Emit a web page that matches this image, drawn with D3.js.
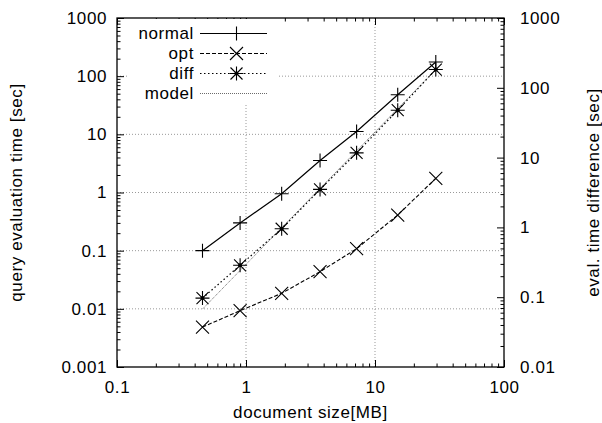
<!DOCTYPE html>
<html>
<head>
<meta charset="utf-8">
<script src="https://cdn.jsdelivr.net/npm/d3@7"></script>
<style>
  body { margin: 0; background: #fff; }
  svg { display: block; }
  text { font-family: "Liberation Sans", Arial, Helvetica, sans-serif; font-size: 17px; letter-spacing: 0.6px; fill: #000; }
</style>
</head>
<body>
<div id="chart"></div>
<script>
// document size [MB] and measured times [sec]
const sizes = [0.46, 0.9, 1.89, 3.75, 7.2, 15.0, 29.6];
const normalTime = [0.1, 0.30, 0.95, 3.55, 11.2, 48, 175];
const optTime = [0.00485, 0.0093, 0.0185, 0.0435, 0.108, 0.41, 1.75];
const diffTime = [0.0153, 0.056, 0.238, 1.13, 4.8, 26, 130];
// model: straight power-law line, two end points
const modelX = [0.46, 29.6];
const modelY = [0.0099, 130];

const xTicks = [0.1, 1, 10, 100];
const yTicks = [0.001, 0.01, 0.1, 1, 10, 100, 1000];
const y2Ticks = [0.01, 0.1, 1, 10, 100, 1000];
const tickLabel = v => String(v);

const width = 602, height = 423;
const m = { top: 18, right: 98, bottom: 56, left: 117 };
const iw = width - m.left - m.right;
const ih = height - m.top - m.bottom;

const svg = d3.select('#chart').append('svg')
  .attr('width', width).attr('height', height);
const g = svg.append('g').attr('transform', `translate(${m.left},${m.top})`);

const x = d3.scaleLog().domain([0.1, 100]).range([0, iw]);
const y = d3.scaleLog().domain([0.001, 1000]).range([ih, 0]);
const y2 = d3.scaleLog().domain([0.01, 1000]).range([ih, 0]);

// minor ticks 2..9 in each decade
function minors(domain) {
  const out = [];
  for (let e = Math.round(Math.log10(domain[0])); e < Math.round(Math.log10(domain[1])); e++) {
    for (let k = 2; k <= 9; k++) out.push(k * Math.pow(10, e));
  }
  return out;
}

// grid
const grid = g.append('g').attr('stroke', '#999').attr('stroke-dasharray', '1,2').attr('stroke-width', 1);
grid.selectAll('line.gx').data(xTicks.slice(1, -1)).join('line')
  .attr('x1', d => x(d)).attr('x2', d => x(d)).attr('y1', 0).attr('y2', ih);
grid.selectAll('line.gy').data(yTicks.slice(1, -1)).join('line')
  .attr('x1', 0).attr('x2', iw).attr('y1', d => y(d)).attr('y2', d => y(d));

// axes (ticks pointing inward)
function styleAxis(sel) {
  sel.attr('font-family', null).attr('font-size', null);
  sel.select('.domain').remove();
  sel.selectAll('line').attr('stroke', '#000');
}
g.append('g').attr('transform', `translate(0,${ih})`)
  .call(d3.axisBottom(x).tickValues(xTicks).tickFormat(tickLabel).tickSize(-7).tickPadding(14))
  .call(styleAxis);
g.append('g').attr('transform', `translate(0,${ih})`)
  .call(d3.axisBottom(x).tickValues(minors(x.domain())).tickFormat('').tickSize(-3.5))
  .call(styleAxis);
g.append('g')
  .call(d3.axisTop(x).tickValues(xTicks).tickFormat('').tickSize(-7))
  .call(styleAxis);
g.append('g')
  .call(d3.axisTop(x).tickValues(minors(x.domain())).tickFormat('').tickSize(-3.5))
  .call(styleAxis);
g.append('g')
  .call(d3.axisLeft(y).tickValues(yTicks).tickFormat(tickLabel).tickSize(-7).tickPadding(10))
  .call(styleAxis);
g.append('g')
  .call(d3.axisLeft(y).tickValues(minors(y.domain())).tickFormat('').tickSize(-3.5))
  .call(styleAxis);
g.append('g').attr('transform', `translate(${iw},0)`)
  .call(d3.axisRight(y2).tickValues(y2Ticks).tickFormat(tickLabel).tickSize(-7).tickPadding(16))
  .call(styleAxis);
g.append('g').attr('transform', `translate(${iw},0)`)
  .call(d3.axisRight(y2).tickValues(minors(y2.domain())).tickFormat('').tickSize(-3.5))
  .call(styleAxis);

// key background masks the grid
g.append('rect').attr('x', 10).attr('y', 1).attr('width', 152).attr('height', 85).attr('fill', '#fff');

g.append('rect').attr('width', iw).attr('height', ih)
  .attr('fill', 'none').attr('stroke', '#000').attr('stroke-width', 1.3);

// markers
function marker(sel, type, cx, cy) {
  const p = d3.path();
  if (type === 'plus' || type === 'star') {
    p.moveTo(cx - 7, cy); p.lineTo(cx + 7, cy);
    p.moveTo(cx, cy - 7); p.lineTo(cx, cy + 7);
  }
  if (type === 'cross' || type === 'star') {
    const r = type === 'star' ? 6 : 6.5;
    p.moveTo(cx - r, cy - r); p.lineTo(cx + r, cy + r);
    p.moveTo(cx - r, cy + r); p.lineTo(cx + r, cy - r);
  }
  sel.append('path').attr('d', p.toString()).attr('stroke', '#000').attr('stroke-width', 1.1).attr('fill', 'none');
  if (type === 'star') sel.append('circle').attr('cx', cx).attr('cy', cy).attr('r', 2).attr('fill', '#000');
}

const series = [
  { label: 'normal', values: normalTime, dash: null, marker: 'plus', width: 1.2 },
  { label: 'opt', values: optTime, dash: '4,2', marker: 'cross', width: 1.1 },
  { label: 'diff', values: diffTime, dash: '1.5,2.5', marker: 'star', width: 1.2 },
];

const line = d3.line().x(d => x(d[0])).y(d => y(d[1]));

const model = modelX.map((v, i) => [v, modelY[i]]);
g.append('path').attr('d', line(model)).attr('fill', 'none')
  .attr('stroke', '#444').attr('stroke-width', 0.8).attr('stroke-dasharray', '1,1');

series.forEach(s => {
  const pts = sizes.map((v, i) => [v, s.values[i]]);
  g.append('path').attr('d', line(pts)).attr('fill', 'none')
    .attr('stroke', '#000').attr('stroke-width', s.width)
    .attr('stroke-dasharray', s.dash);
  const mg = g.append('g');
  pts.forEach(p => marker(mg, s.marker, x(p[0]), y(p[1])));
});

// key
const keyRows = [...series, { label: 'model', dash: '1,1', marker: null, width: 0.8, color: '#444' }];
keyRows.forEach((s, i) => {
  const ky = 15.5 + i * 20;
  const kg = g.append('g');
  kg.append('text').attr('x', 77).attr('y', ky).attr('dy', '0.35em')
    .attr('text-anchor', 'end').text(s.label);
  kg.append('line').attr('x1', 83).attr('x2', 150).attr('y1', ky).attr('y2', ky)
    .attr('stroke', s.color || '#000').attr('stroke-width', s.width)
    .attr('stroke-dasharray', s.dash);
  if (s.marker) marker(kg, s.marker, 119.5, ky);
});

// axis titles
svg.append('text').attr('x', m.left + iw / 2).attr('y', 418)
  .attr('text-anchor', 'middle').text('document size[MB]');
svg.append('text').attr('transform', `translate(22,${m.top + ih / 2}) rotate(-90)`)
  .attr('text-anchor', 'middle').text('query evaluation time [sec]');
svg.append('text').attr('transform', `translate(599,${m.top + ih / 2}) rotate(-90)`)
  .attr('text-anchor', 'middle').text('eval. time difference [sec]');
</script>
</body>
</html>
